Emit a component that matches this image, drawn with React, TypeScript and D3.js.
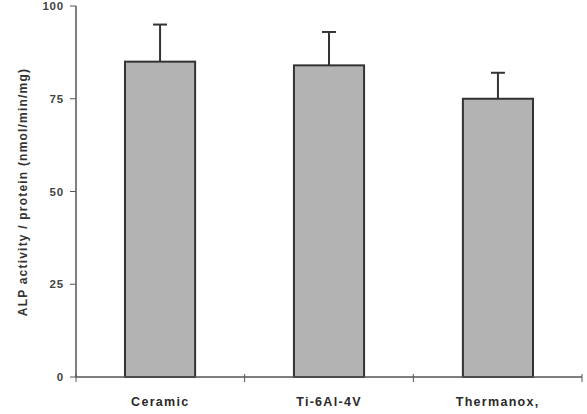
import React from "react";
import * as d3 from "d3";

const categories = ["Ceramic", "Ti-6Al-4V", "Thermanox,"];
const values = [85, 84, 75];
const errors = [10, 9, 7];
const yTicks = [0, 25, 50, 75, 100];

export default function App() {
  const W = 587, H = 414;
  const left = 76, right = 582, top = 6, bottom = 377;
  const x = d3.scaleBand<string>().domain(categories).range([left, right]).paddingInner(0.585).paddingOuter(0.29);
  const xBand = d3.scaleBand<string>().domain(categories).range([left, right]);
  const y = d3.scaleLinear().domain([0, 100]).range([bottom, top]);
  const stroke = "#333";
  return (
    <svg width={W} height={H} style={{ position: "absolute", left: 0, top: 0, background: "#fff" }}
      fontFamily="Liberation Sans, Arial, sans-serif">
      {categories.map((c, i) => {
        const bx = x(c)!;
        const cx = bx + x.bandwidth() / 2;
        return (
          <g key={c}>
            <line x1={cx} x2={cx} y1={y(values[i])} y2={y(values[i] + errors[i])} stroke={stroke} strokeWidth={2} />
            <line x1={cx - 7} x2={cx + 7} y1={y(values[i] + errors[i])} y2={y(values[i] + errors[i])} stroke={stroke} strokeWidth={2} />
            <rect x={bx} y={y(values[i])} width={x.bandwidth()} height={bottom - y(values[i])}
              fill="#b3b3b3" stroke={stroke} strokeWidth={2} />
            <text x={xBand(c)! + xBand.bandwidth() / 2} y={406} textAnchor="middle" fontSize={12.5} fontWeight="bold" letterSpacing={1.3} fill="#2a2a2a">{c}</text>
          </g>
        );
      })}
      <line x1={left} x2={left} y1={top} y2={bottom} stroke="#555" strokeWidth={1.5} />
      <line x1={left} x2={right} y1={bottom} y2={bottom} stroke="#555" strokeWidth={1.5} />
      {yTicks.map(t => (
        <g key={t}>
          <line x1={left - 6} x2={left} y1={y(t)} y2={y(t)} stroke="#555" strokeWidth={1} />
          <text x={left - 12} y={y(t)} dy="0.35em" textAnchor="end" fontSize={11.5} fontWeight="bold" letterSpacing={0.8} fill="#444">{t}</text>
        </g>
      ))}
      {[left, ...categories.map(c => xBand(c)! + xBand.bandwidth())].map((v, i) => (
        <line key={i} x1={v} x2={v} y1={bottom - 3} y2={bottom + 5} stroke="#555" strokeWidth={1} />
      ))}
      <text transform={`translate(27,192) rotate(-90)`} textAnchor="middle" fontSize={12} fontWeight="bold" letterSpacing={1.2} fill="#333">
        ALP activity / protein (nmol/min/mg)
      </text>
    </svg>
  );
}
